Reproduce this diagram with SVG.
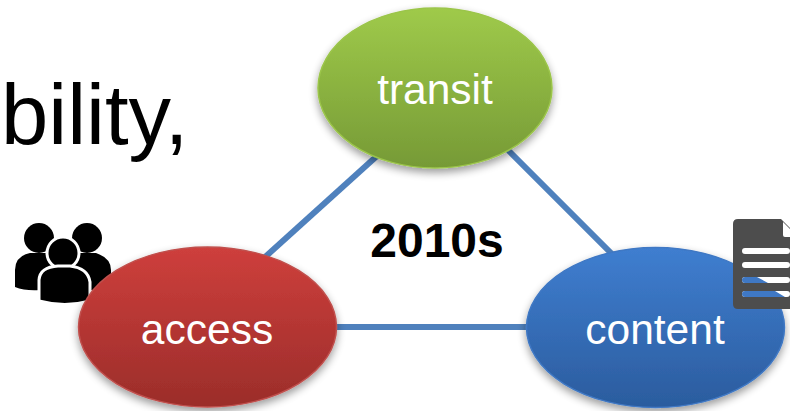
<svg xmlns="http://www.w3.org/2000/svg" width="790" height="411" viewBox="0 0 790 411">
<defs>
<linearGradient id="g" x1="0" y1="0" x2="0" y2="1"><stop offset="0" stop-color="#9fca4a"/><stop offset="1" stop-color="#769a36"/></linearGradient>
<linearGradient id="r" x1="0" y1="0" x2="0" y2="1"><stop offset="0" stop-color="#ce3f3c"/><stop offset="1" stop-color="#9b2d2a"/></linearGradient>
<linearGradient id="b" x1="0" y1="0" x2="0" y2="1"><stop offset="0" stop-color="#3f7ed0"/><stop offset="1" stop-color="#2b5c9e"/></linearGradient>
<filter id="s" x="-10%" y="-10%" width="120%" height="125%"><feGaussianBlur in="SourceAlpha" stdDeviation="4"/><feOffset dy="4"/><feComponentTransfer><feFuncA type="linear" slope="0.4"/></feComponentTransfer><feMerge><feMergeNode/><feMergeNode in="SourceGraphic"/></feMerge></filter>
</defs>
<style>
text{font-family:"Liberation Sans",Arial,sans-serif}
.l{font-size:42.5px;fill:#fff;text-anchor:middle}
.c{stroke:#4f81bd;stroke-width:6;fill:none}
.w{stroke:#fff;stroke-width:3}
</style>
<rect width="790" height="411" fill="#fff"/>
<text x="1" y="144" font-size="85" fill="#000">bility,</text>
<text x="437" y="257" font-size="48" font-weight="bold" fill="#000" text-anchor="middle">2010s</text>
<g id="connectors">
<line class="c" x1="378" y1="155" x2="264" y2="258"/>
<line class="c" x1="508" y1="150" x2="612" y2="254"/>
<line class="c" x1="334" y1="327" x2="528" y2="327"/>
</g>
<g id="transit">
<ellipse cx="435" cy="88" rx="117" ry="80" fill="url(#g)" stroke="#9bc54a" stroke-width="1.5" filter="url(#s)"/>
<text class="l" x="435" y="104">transit</text>
</g>
<g id="access-icon">
<circle cx="39" cy="238" r="15"/>
<circle cx="87" cy="238" r="15"/>
<path d="M15 287V270Q15 256 30 253H96Q111 258 111 270V287Q90 292 70 290H40Q25 291 15 287Z"/>
<circle cx="63" cy="253" r="16" class="w"/>
<path d="M39 301V280Q40 267 58 266H70Q88 268 90 282V301Q65 308 39 301Z" class="w"/>
</g>
<g id="access">
<ellipse cx="207.500" cy="327" rx="129" ry="80" fill="url(#r)" stroke="#c0504d" stroke-width="1.5" filter="url(#s)"/>
<text class="l" x="207" y="344">access</text>
</g>
<g id="content">
<ellipse cx="655.500" cy="327.500" rx="129" ry="80" fill="url(#b)" stroke="#3f78c4" stroke-width="1.5" filter="url(#s)"/>
<text class="l" x="655" y="344">content</text>
</g>
<g id="content-icon">
<path d="M733 224Q733 219 738 219H781L790 228V309H738Q733 309 733 304Z" fill="#4d4d4d"/>
<path d="M783 222V235Q783 237 785 237H790V229Z" fill="#fff"/>
<rect x="742" y="248" width="48" height="6" rx="3" fill="#fff"/>
<rect x="742" y="262" width="48" height="6" rx="3" fill="#fff"/>
<rect x="742" y="277" width="48" height="6" rx="3" fill="#fff"/>
<rect x="742" y="291" width="48" height="6" rx="3" fill="#fff"/>
<path d="M745 277H757L768 283H745Q742 283 742 280Q742 277 745 277ZM745 291H775L785 297H745Q742 297 742 294Q742 291 745 291Z" fill="#3f78c4"/>
</g>
</svg>
